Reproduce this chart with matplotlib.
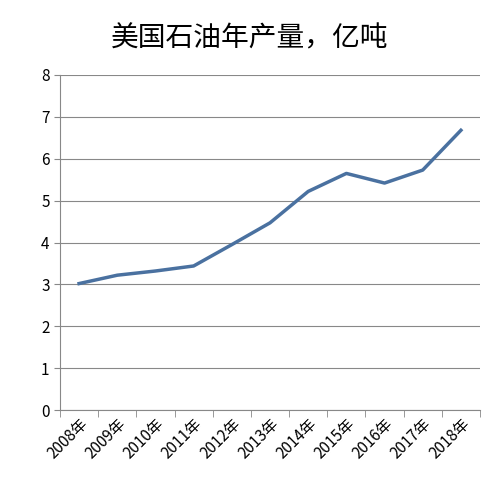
import matplotlib
matplotlib.use("Agg")
import matplotlib.pyplot as plt
import numpy as np

plt.rcParams['font.family'] = ['Noto Sans CJK SC', 'DejaVu Sans']

years = ['2008年', '2009年', '2010年', '2011年', '2012年', '2013年',
         '2014年', '2015年', '2016年', '2017年', '2018年']
output = [3.02, 3.22, 3.32, 3.44, 3.95, 4.47, 5.22, 5.65, 5.42, 5.73, 6.68]

fig = plt.figure(figsize=(5, 4.87), dpi=100)
ax = fig.add_axes([0.12, 0.158, 0.84, 0.688])

x = np.arange(len(years))
ax.plot(x, output, color='#4a71a0', linewidth=2.5)

ax.set_xlim(-0.5, len(years) - 0.5)
ax.set_ylim(0, 8)
ax.set_yticks(range(0, 9))
ax.grid(axis='y', color='#888888', linewidth=0.8)
ax.set_axisbelow(True)

ax.set_xticks(x)
ax.set_xticklabels(years, rotation=45, ha='right', rotation_mode='anchor', fontsize=11)
ax.tick_params(axis='x', length=0, pad=4)
ax.set_xticks(np.arange(-0.5, len(years)), minor=True)
ax.tick_params(axis='x', which='minor', length=5, color='#888888', direction='out')
ax.tick_params(axis='y', length=4, color='#888888', labelsize=11)

for side in ['top', 'right']:
    ax.spines[side].set_visible(False)
ax.spines['left'].set_color('#888888')
ax.spines['bottom'].set_color('#888888')

fig.text(0.5, 0.922, '美国石油年产量，亿吨', ha='center', va='center', fontsize=20)

fig.savefig('out.png', dpi=100, facecolor='white')
